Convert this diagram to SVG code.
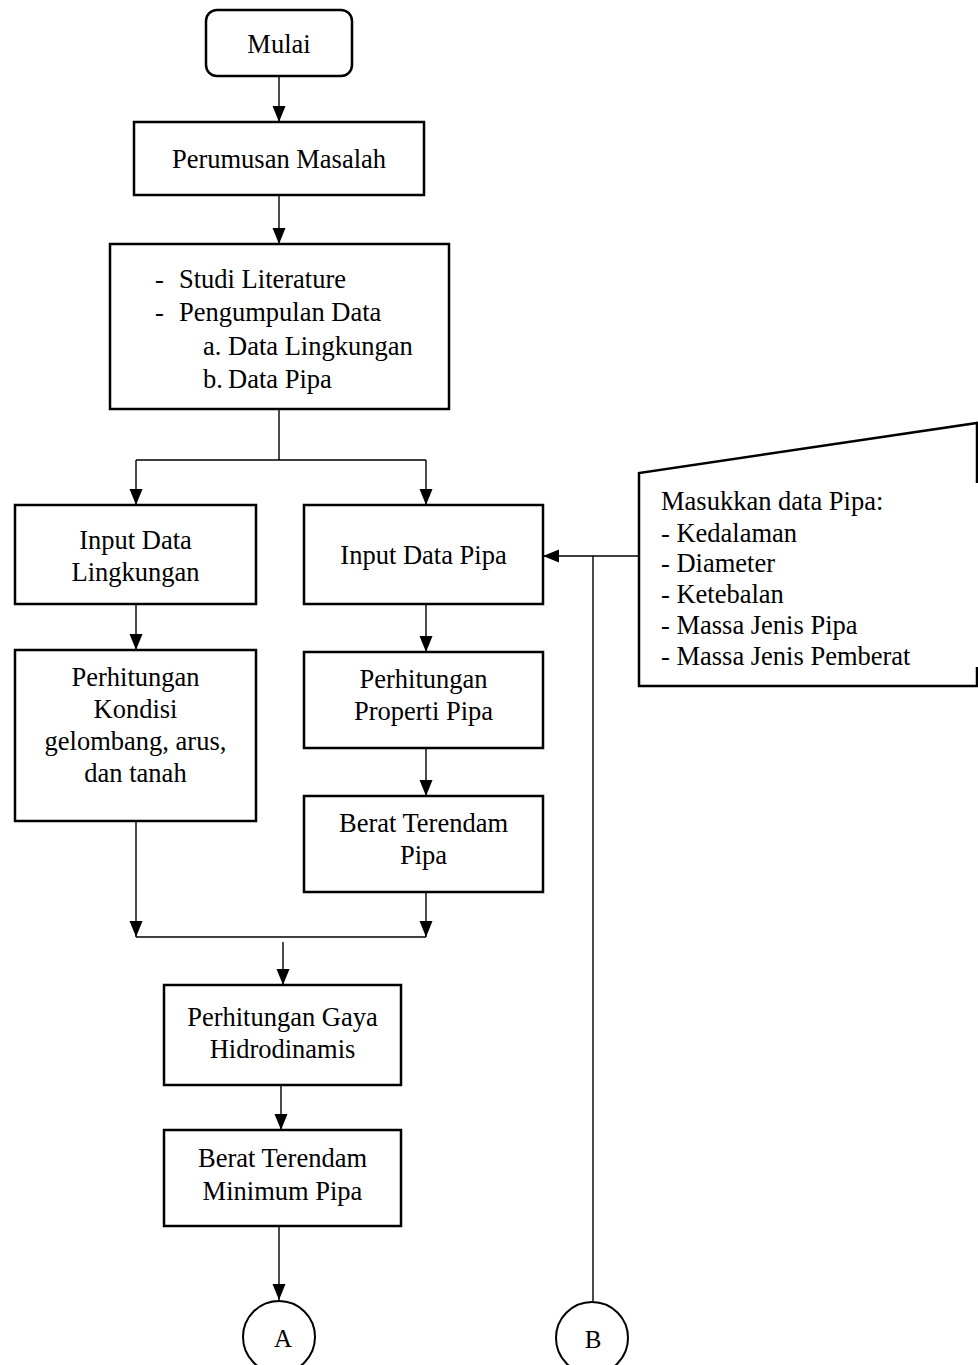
<svg xmlns="http://www.w3.org/2000/svg" width="978" height="1365" viewBox="0 0 978 1365">
<defs>
<marker id="ah" markerUnits="userSpaceOnUse" markerWidth="16" markerHeight="14" refX="16" refY="7" orient="auto">
<path d="M0,0.5 L16,7 L0,13.5 Z" fill="#000"/>
</marker>
<style>
.box{fill:#fff;stroke:#000;stroke-width:2.5}
.ln{fill:none;stroke:#000;stroke-width:1.4}
.ar{fill:none;stroke:#000;stroke-width:1.4;marker-end:url(#ah)}
text{font-family:"Liberation Serif","Times New Roman",serif;font-size:26.5px;fill:#000}
.c{text-anchor:middle}
</style>
</defs>
<rect width="978" height="1365" fill="#fff"/>
<g id="connectors">
<path class="ar" d="M279,76 V122"/>
<path class="ar" d="M279,195 V244"/>
<path class="ln" d="M279,409 V460 M136,460 H426"/>
<path class="ar" d="M136,460 V505"/>
<path class="ar" d="M426,460 V505"/>
<path class="ar" d="M136,604 V650"/>
<path class="ar" d="M426,604 V652"/>
<path class="ar" d="M426,748 V796"/>
<path class="ar" d="M136,821 V937"/>
<path class="ar" d="M426,892 V937"/>
<path class="ln" d="M136,937 H426"/>
<path class="ar" d="M283,942 V985"/>
<path class="ar" d="M281,1085 V1130"/>
<path class="ar" d="M279,1226 V1300"/>
<path class="ar" d="M593,1301 V556 H543"/>
<path class="ln" d="M593,556 H639"/>
</g>
<g id="mulai">
<rect class="box" x="206" y="10" width="146" height="66" rx="11" stroke-width="2"/>
<text class="c" x="279" y="53">Mulai</text>
</g>
<g id="perumusan">
<rect class="box" x="134" y="122" width="290" height="73"/>
<text class="c" x="279" y="168">Perumusan Masalah</text>
</g>
<g id="studi">
<rect class="box" x="110" y="244" width="339" height="165"/>
<text x="155" y="288">-</text><text x="179" y="288">Studi Literature</text>
<text x="155" y="321">-</text><text x="179" y="321">Pengumpulan Data</text>
<text x="203" y="355">a.</text><text x="228" y="355">Data Lingkungan</text>
<text x="203" y="388">b.</text><text x="228" y="388">Data Pipa</text>
</g>
<g id="input-lingkungan">
<rect class="box" x="15" y="505" width="241" height="99"/>
<text class="c" x="135.5" y="549">Input Data</text>
<text class="c" x="135.5" y="581">Lingkungan</text>
</g>
<g id="input-pipa">
<rect class="box" x="304" y="505" width="239" height="99"/>
<text class="c" x="423.5" y="564">Input Data Pipa</text>
</g>
<g id="kondisi">
<rect class="box" x="15" y="650" width="241" height="171"/>
<text class="c" x="135.5" y="686">Perhitungan</text>
<text class="c" x="135.5" y="718">Kondisi</text>
<text class="c" x="135.5" y="750">gelombang, arus,</text>
<text class="c" x="135.5" y="782">dan tanah</text>
</g>
<g id="properti">
<rect class="box" x="304" y="652" width="239" height="96"/>
<text class="c" x="423.5" y="688">Perhitungan</text>
<text class="c" x="423.5" y="720">Properti Pipa</text>
</g>
<g id="berat-pipa">
<rect class="box" x="304" y="796" width="239" height="96"/>
<text class="c" x="423.5" y="832">Berat Terendam</text>
<text class="c" x="423.5" y="864">Pipa</text>
</g>
<g id="gaya">
<rect class="box" x="164" y="985" width="237" height="100"/>
<text class="c" x="282.5" y="1026">Perhitungan Gaya</text>
<text class="c" x="282.5" y="1058">Hidrodinamis</text>
</g>
<g id="berat-min">
<rect class="box" x="164" y="1130" width="237" height="96"/>
<text class="c" x="282.5" y="1167">Berat Terendam</text>
<text class="c" x="282.5" y="1200">Minimum Pipa</text>
</g>
<g id="manual-input">
<path d="M977,483 V423 L639,473 V686 H977 V667" fill="#fff" stroke="#000" stroke-width="2.5"/>
<text x="661" y="510">Masukkan data Pipa:</text>
<text x="661" y="542">- Kedalaman</text>
<text x="661" y="572">- Diameter</text>
<text x="661" y="603">- Ketebalan</text>
<text x="661" y="634">- Massa Jenis Pipa</text>
<text x="661" y="665">- Massa Jenis Pemberat</text>
</g>
<g id="conn-a">
<circle cx="279" cy="1337" r="36" fill="#fff" stroke="#000" stroke-width="2"/>
<text class="c" x="283" y="1347" style="font-size:25px">A</text>
</g>
<g id="conn-b">
<circle cx="592" cy="1338" r="36" fill="#fff" stroke="#000" stroke-width="2"/>
<text class="c" x="593" y="1348" style="font-size:25px">B</text>
</g>
</svg>
